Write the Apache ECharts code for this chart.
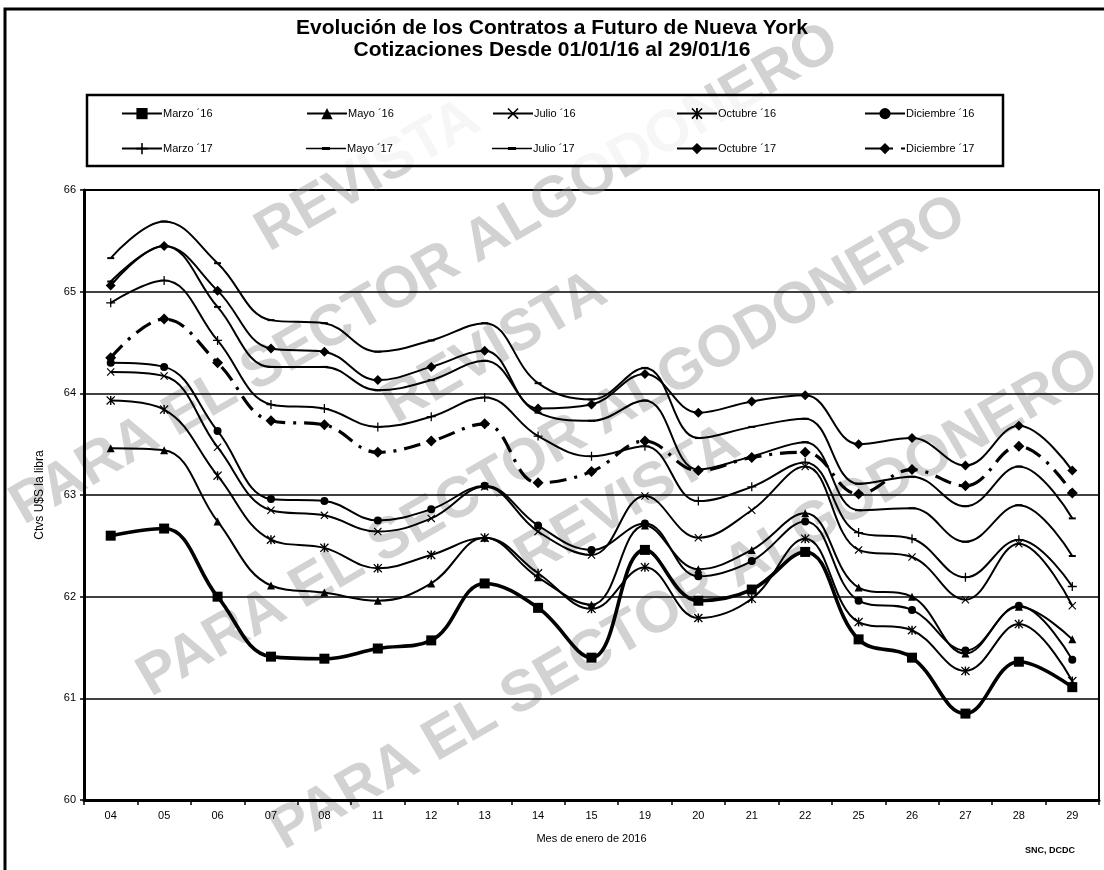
<!DOCTYPE html>
<html>
<head>
<meta charset="utf-8">
<title>Contratos a Futuro de Nueva York</title>
<script src="https://cdn.jsdelivr.net/npm/echarts@6/dist/echarts.min.js"></script>
<style>
  html, body { margin: 0; padding: 0; background: #fff; }
  #chart { width: 1104px; height: 870px; }
</style>
</head>
<body>
<div id="chart"></div>
<script>
// Trading days of January 2016
const categories = ['04','05','06','07','08','11','12','13','14','15','19','20','21','22','25','26','27','28','29'];

// Settlement prices, US cents per pound
const marzo16     = [62.60,62.67,62.00,61.41,61.39,61.49,61.57,62.13,61.89,61.40,62.46,61.96,62.07,62.44,61.58,61.40,60.85,61.36,61.11];
const mayo16      = [63.46,63.44,62.74,62.11,62.04,61.96,62.13,62.58,62.19,61.92,62.70,62.27,62.46,62.82,62.09,62.00,61.44,61.90,61.58];
const julio16     = [64.21,64.17,63.47,62.85,62.80,62.64,62.77,63.08,62.64,62.41,62.99,62.58,62.85,63.28,62.46,62.39,61.97,62.52,61.91];
const octubre16   = [63.93,63.84,63.19,62.56,62.48,62.28,62.41,62.58,62.23,61.88,62.29,61.79,61.98,62.57,61.75,61.67,61.27,61.73,61.17];
const diciembre16 = [64.30,64.26,63.63,62.96,62.94,62.75,62.86,63.09,62.70,62.46,62.72,62.20,62.35,62.74,61.96,61.87,61.47,61.91,61.38];
const marzo17     = [64.89,65.11,64.52,63.89,63.85,63.67,63.77,63.96,63.58,63.38,63.48,62.94,63.08,63.32,62.63,62.57,62.19,62.56,62.10];
const mayo17      = [65.10,65.45,64.85,64.26,64.26,64.03,64.13,64.32,63.81,63.73,63.93,63.25,63.38,63.52,62.85,62.87,62.54,62.90,62.40];
const julio17     = [65.33,65.69,65.28,64.72,64.69,64.41,64.52,64.69,64.10,63.94,64.25,63.56,63.67,63.75,63.11,63.18,62.89,63.28,62.77];
const octubre17   = [65.06,65.45,65.01,64.44,64.41,64.13,64.26,64.42,63.85,63.89,64.19,63.81,63.92,63.98,63.50,63.56,63.29,63.68,63.24];
const diciembre17 = [64.35,64.73,64.30,63.73,63.69,63.42,63.53,63.70,63.12,63.23,63.53,63.24,63.37,63.42,63.01,63.25,63.09,63.48,63.02];

const seriesNames = ["Marzo \u00b416","Mayo \u00b416","Julio \u00b416","Octubre \u00b416","Diciembre \u00b416",
                     "Marzo \u00b417","Mayo \u00b417","Julio \u00b417","Octubre \u00b417","Diciembre \u00b417"];

const titleLines = ['Evolución de los Contratos a Futuro de Nueva York', 'Cotizaciones Desde 01/01/16 al 29/01/16'];
const xAxisName = 'Mes de enero de 2016';
const yAxisName = 'Ctvs U$S la libra';
const sourceNote = 'SNC, DCDC';
const stampTop = 'REVISTA';
const stampBottom = 'PARA EL SECTOR ALGODONERO';

// Marker shapes drawn as filled outlines
const SYM_X = 'path://M0,1L1,0L5,4L9,0L10,1L6,5L10,9L9,10L5,6L1,10L0,9L4,5Z';
const SYM_STAR = 'path://M0,1L1,0L5,4L9,0L10,1L6,5L10,9L9,10L5,6L1,10L0,9L4,5ZM4.2,0L5.8,0L5.8,10L4.2,10Z';
const SYM_PLUS = 'path://M4.3,0L5.7,0L5.7,4.3L10,4.3L10,5.7L5.7,5.7L5.7,10L4.3,10L4.3,5.7L0,5.7L0,4.3L4.3,4.3Z';
const SYM_DASH = 'path://M0,0L10,0L10,3L0,3Z';
// legend key for the plain lines: a thin stroke with a short tick in the middle
const KEY_DASH = 'path://M0,6.2L40,6.2L40,7.8L0,7.8ZM16,5.6L24,5.6L24,8.4L16,8.4Z';

const FONT = "'Liberation Sans Narrow', 'Liberation Sans', Arial, sans-serif";

function lineSeries(name, data, symbol, size, width, extra) {
  return Object.assign({
    name: name,
    type: 'line',
    data: data,
    smooth: 0.4,
    symbol: symbol,
    symbolSize: size,
    showAllSymbol: true,
    lineStyle: { color: '#000', width: width },
    itemStyle: { color: '#000' },
    emphasis: { disabled: true },
    z: 3
  }, extra || {});
}

const series = [
  lineSeries(seriesNames[0], marzo16, 'rect', 10, 3.6, { z: 5 }),
  lineSeries(seriesNames[1], mayo16, 'triangle', 8, 2),
  lineSeries(seriesNames[2], julio16, SYM_X, 8, 2),
  lineSeries(seriesNames[3], octubre16, SYM_STAR, 9, 2),
  lineSeries(seriesNames[4], diciembre16, 'circle', 8, 2),
  lineSeries(seriesNames[5], marzo17, SYM_PLUS, 9, 2),
  lineSeries(seriesNames[6], mayo17, SYM_DASH, [7, 2], 2),
  lineSeries(seriesNames[7], julio17, SYM_DASH, [7, 2], 2),
  lineSeries(seriesNames[8], octubre17, 'diamond', 10, 2),
  lineSeries(seriesNames[9], diciembre17, 'diamond', 11, 3, {
    lineStyle: { color: '#000', width: 3.2, type: [17, 8, 3, 8] }
  })
];

// Legend: five columns, two rows
const legendCols = [121, 306, 492, 676, 864];
const legendRows = [115, 150];
const legends = seriesNames.map(function (name, i) {
  const item = (i === 6 || i === 7) ? { name: name, icon: KEY_DASH } : name;
  return {
    data: [item],
    left: legendCols[i % 5],
    top: legendRows[Math.floor(i / 5)] - 7,
    itemWidth: 40,
    itemHeight: 14,
    itemGap: 0,
    padding: 0,
    selectedMode: false,
    itemStyle: { color: '#000' },
    textStyle: { fontFamily: FONT, fontSize: 11, color: '#000', padding: [0, 0, 0, -4] },
    z: 6
  };
});

// Diagonal stamps in the background
const stampCenters = [[425, 275], [552, 447], [685, 600]];
const stampStyle = { fill: '#d2d2d2', font: "bold 58px 'Liberation Sans', Arial, sans-serif", textAlign: 'center', textVerticalAlign: 'middle' };
const stamps = stampCenters.map(function (c) {
  return {
    type: 'group',
    x: c[0], y: c[1],
    rotation: Math.PI / 6,
    silent: true,
    z: 0,
    children: [
      { type: 'text', x: 0, y: -114, z: 0, style: Object.assign({ text: stampTop }, stampStyle) },
      { type: 'text', x: 0, y: 0, z: 0, style: Object.assign({ text: stampBottom }, stampStyle) }
    ]
  };
});

const option = {
  animation: false,
  backgroundColor: '#fff',
  title: {
    text: titleLines.join('\n'),
    left: 'center',
    top: 12,
    textStyle: { fontFamily: "'Liberation Sans', Arial, sans-serif", fontSize: 21, fontWeight: 'bold', color: '#000', lineHeight: 22 },
    z: 8
  },
  legend: legends,
  grid: { left: 84, top: 190, width: 1015, height: 610, show: true, borderColor: '#000', borderWidth: 2, backgroundColor: 'transparent' },
  xAxis: {
    type: 'category',
    data: categories,
    boundaryGap: true,
    axisLine: { lineStyle: { color: '#000', width: 3 } },
    axisTick: { show: true, length: 5, lineStyle: { color: '#000', width: 1.5 } },
    axisLabel: { color: '#000', fontSize: 11, fontFamily: FONT, margin: 10 },
    splitLine: { show: false },
    name: xAxisName,
    nameLocation: 'middle',
    nameGap: 33,
    nameTextStyle: { color: '#000', fontSize: 11, fontFamily: FONT }
  },
  yAxis: {
    type: 'value',
    min: 60,
    max: 66,
    interval: 1,
    axisLine: { show: true, lineStyle: { color: '#000', width: 3 } },
    axisTick: { show: true, length: 4, lineStyle: { color: '#000', width: 1.5 } },
    axisLabel: { color: '#000', fontSize: 11, fontFamily: FONT, margin: 8 },
    splitLine: { show: true, lineStyle: { color: '#000', width: 1.5 } },
    name: yAxisName,
    nameLocation: 'middle',
    nameGap: 38,
    nameRotate: 90,
    nameTextStyle: { color: '#000', fontSize: 12, fontFamily: FONT }
  },
  graphic: stamps.concat([
    // outer frame of the whole chart
    { type: 'rect', silent: true, z: 9, shape: { x: 5, y: 9, width: 1110, height: 880 },
      style: { fill: 'none', stroke: '#000', lineWidth: 3 } },
    // legend frame
    { type: 'rect', silent: true, z: 2, shape: { x: 87, y: 95, width: 916, height: 71 },
      style: { fill: 'rgba(255,255,255,0.8)', stroke: '#000', lineWidth: 2.5 } },
    // source note
    { type: 'text', silent: true, z: 9, x: 1075, y: 851,
      style: { text: sourceNote, fill: '#000', font: "bold 9px 'Liberation Sans', Arial, sans-serif", textAlign: 'right', textVerticalAlign: 'middle' } }
  ]),
  series: series
};

const chart = echarts.init(document.getElementById('chart'), null, { renderer: 'canvas' });
chart.setOption(option);
</script>
</body>
</html>
